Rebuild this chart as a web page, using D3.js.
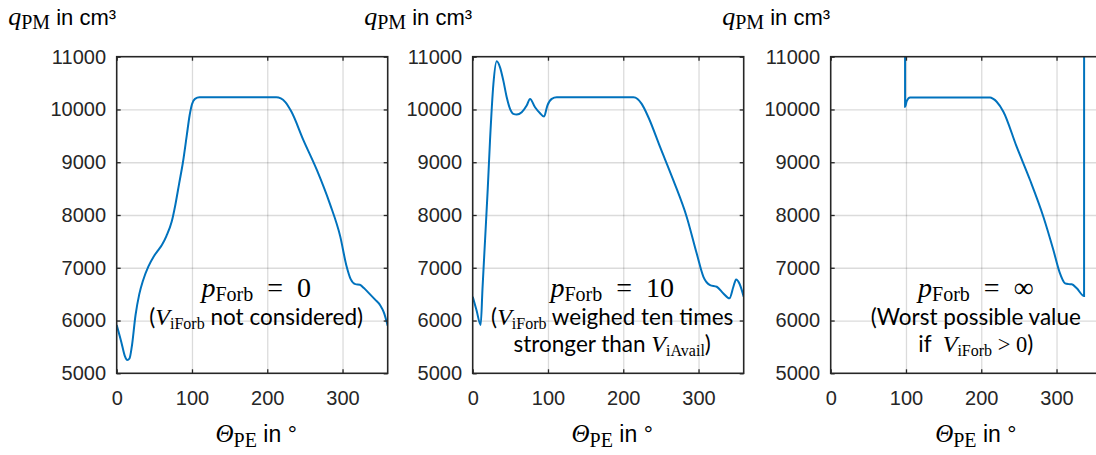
<!DOCTYPE html>
<html>
<head>
<meta charset="utf-8">
<script src="https://cdn.jsdelivr.net/npm/d3@7"></script>
<style>
  body { margin: 0; background: #fff; }
  svg { display: block; }
  .tick text { font-family: "Liberation Sans", Arial, sans-serif; font-size: 20px; fill: #262626; }
  .grid line { stroke: #000; stroke-opacity: 0.14; stroke-width: 1.3; }
  .grid path { display: none; }
  .ax path { display: none; }
  .ax line { stroke: #262626; stroke-width: 1.3; }
  .box { fill: none; stroke: #262626; stroke-width: 1.6; }
  .curve { fill: none; stroke: #0072BD; stroke-width: 2; }
  text { white-space: pre; }
  .mi { font-family: "Liberation Serif", "DejaVu Serif", serif; font-style: italic; }
  .mr { font-family: "Liberation Serif", "DejaVu Serif", serif; }
  .sf { font-family: "Liberation Sans", Arial, sans-serif; }
  .cb { font-family: Lato, "Open Sans", sans-serif; }
</style>
</head>
<body>
<svg id="chart" width="1096" height="455"></svg>
<script>
// axis ticks
const thetaTicks = [0, 100, 200, 300];
const qTicks = [5000, 6000, 7000, 8000, 9000, 10000, 11000];

// "worst possible value" - off the top of the plot
const WORST = 1e5;

// p_Forb = 0
const theta0 = [0, 6, 11, 14, 17, 20, 25, 30, 35, 42, 49, 55, 60, 66, 73, 78, 83, 88, 93, 97, 100, 104, 110,
  212, 218, 224, 232, 248, 266, 283, 297, 305, 311, 317, 323, 328, 335, 343, 350, 355, 360];
const q0 = [5915, 5600, 5320, 5250, 5280, 5500, 6100, 6500, 6760, 7020, 7210, 7330, 7430, 7600, 7870, 8200, 8600, 9000, 9500, 9900, 10100, 10200, 10230,
  10230, 10210, 10140, 9960, 9420, 8850, 8220, 7590, 7050, 6780, 6690, 6680, 6620, 6520, 6400, 6290, 6150, 5900];

// p_Forb = 10
const theta10 = [0, 5, 10.6, 13, 16.4, 20, 23, 27.5, 31.9, 36.3, 40.7, 45.2, 49.6, 54, 58.5, 65.1, 71.7, 76.2, 82.8, 89.5, 94.8, 99.2, 105, 111.6,
  213.5, 219, 224.5, 233.4, 249, 266.6, 284.3, 297.6, 306.5, 315.3, 324.2, 333, 341, 346.3, 349.9, 354.3, 360];
const q10 = [6451, 6200, 5916, 6600, 7522, 8500, 9412, 10483, 10912, 10798, 10546, 10231, 10011, 9916, 9904, 9948, 10074, 10200, 10042, 9929, 9866, 10074, 10200, 10231,
  10231, 10200, 10105, 9853, 9286, 8656, 7963, 7270, 6829, 6672, 6640, 6514, 6420, 6640, 6779, 6703, 6451];

// p_Forb = inf
const thetaInf = [0, 97.9, 98.8, 101, 105.4, 211.7, 216, 220.5, 229.4, 247, 264.8, 282.5, 295.8, 303.8, 311.4, 316, 320.2, 326.9, 336.6, 337.3, 360];
const qInf = [WORST, WORST, 10053, 10160, 10229, 10229, 10200, 10147, 9958, 9295, 8663, 7968, 7337, 6926, 6705, 6690, 6686, 6610, 6465, WORST, WORST];

const pForbValues = ["0", "10", "\u221E"];

// annotation lines: [text, style]
const notes0 = [[["(", "cb"], ["V", "mi"], ["iForb", "sub"], [" not considered)", "cb"]]];
const notes10 = [
  [["(", "cb"], ["V", "mi"], ["iForb", "sub"], [" weighed ten times", "cb"]],
  [["stronger than ", "cb"], ["V", "mi"], ["iAvail", "sub"], [")", "cb"]]
];
const notesInf = [
  [["(Worst possible value", "cb"]],
  [["if  ", "cb"], ["V", "mi"], ["iForb", "sub"], [" > 0", "mr"], [")", "cb"]]
];

const panels = [
  { theta: theta0, q: q0, p: pForbValues[0], notes: notes0, xMax: 360, left: 116.7 },
  { theta: theta10, q: q10, p: pForbValues[1], notes: notes10, xMax: 360, left: 472.7 },
  { theta: thetaInf, q: qInf, p: pForbValues[2], notes: notesInf, xMax: 375, left: 830.7 }
];

const svg = d3.select("#chart");
const TOP = 56.7, H = 316.6, PX_PER_DEG = 271 / 360;

panels.forEach((P, i) => {
  const w = PX_PER_DEG * P.xMax;
  const x = d3.scaleLinear().domain([0, P.xMax]).range([0, w]);
  const y = d3.scaleLinear().domain([5000, 11000]).range([H, 0]);
  const g = svg.append("g").attr("transform", `translate(${P.left},${TOP})`);

  // grid
  g.append("g").attr("class", "grid").attr("transform", `translate(0,${H})`)
    .call(d3.axisBottom(x).tickValues(thetaTicks.slice(1)).tickSize(-H).tickFormat(""));
  g.append("g").attr("class", "grid")
    .call(d3.axisLeft(y).tickValues(qTicks.slice(1, -1)).tickSize(-w).tickFormat(""));

  // curve
  g.append("clipPath").attr("id", `clip${i}`)
    .append("rect").attr("width", w).attr("height", H);
  g.append("path")
    .datum(d3.zip(P.theta, P.q))
    .attr("class", "curve")
    .attr("clip-path", `url(#clip${i})`)
    .attr("d", d3.line().x(d => x(d[0])).y(d => y(d[1])).curve(d3.curveMonotoneX));

  // axes, ticks inward on all sides
  g.append("g").attr("class", "ax").attr("transform", `translate(0,${H})`)
    .call(d3.axisBottom(x).tickValues(thetaTicks).tickFormat(d3.format("d")).tickSizeInner(-4).tickSizeOuter(0).tickPadding(17.5));
  g.append("g").attr("class", "ax")
    .call(d3.axisTop(x).tickValues(thetaTicks).tickSizeInner(-4).tickSizeOuter(0).tickFormat(""));
  g.append("g").attr("class", "ax")
    .call(d3.axisLeft(y).tickValues(qTicks).tickFormat(d3.format("d")).tickSizeInner(-4).tickSizeOuter(0).tickPadding(10.7));
  g.append("g").attr("class", "ax").attr("transform", `translate(${w},0)`)
    .call(d3.axisRight(y).tickValues(qTicks).tickSizeInner(-4).tickSizeOuter(0).tickFormat(""));
  g.append("rect").attr("class", "box").attr("width", w).attr("height", H);

  // y title
  const yt = svg.append("text").attr("x", P.left - 108.5).attr("y", 25).attr("fill", "#000");
  yt.append("tspan").attr("class", "mi").attr("font-size", 26).text("q");
  yt.append("tspan").attr("class", "mr").attr("font-size", 20).attr("dy", 4).text("PM");
  yt.append("tspan").attr("class", "sf").attr("font-size", 22).attr("dy", -4).text(" in cm\u00B3");

  // x title
  const cx = w / 2 + 4;
  const xt = g.append("text").attr("x", cx).attr("y", 385).attr("text-anchor", "middle").attr("fill", "#000");
  xt.append("tspan").attr("class", "mi").attr("font-size", 25).text("\u0398");
  xt.append("tspan").attr("class", "mr").attr("font-size", 20).attr("dy", 5).text("PE");
  xt.append("tspan").attr("class", "sf").attr("font-size", 23).attr("dy", -5).text(" in \u00B0");

  // annotation: p_Forb = ...
  const pt = g.append("text").attr("x", cx).attr("y", 240).attr("text-anchor", "middle").attr("fill", "#000");
  pt.append("tspan").attr("class", "mi").attr("font-size", 28).text("p");
  pt.append("tspan").attr("class", "mr").attr("font-size", 20).attr("dy", 4).text("Forb");
  pt.append("tspan").attr("class", "mr").attr("font-size", 28).attr("dy", -4).text("  =  " + P.p);

  P.notes.forEach((line, li) => {
    const t = g.append("text").attr("x", cx).attr("y", 268.3 + li * 26.7)
      .attr("text-anchor", "middle").attr("fill", "#000");
    let shifted = false;
    line.forEach(([s, cls]) => {
      const ts = t.append("tspan").text(s);
      if (cls === "sub") {
        ts.attr("class", "mr").attr("font-size", 16).attr("dy", 4);
        shifted = true;
      } else {
        ts.attr("class", cls).attr("font-size", cls === "mi" ? 24 : 22.5);
        if (shifted) { ts.attr("dy", -4); shifted = false; }
      }
    });
  });
});
</script>
</body>
</html>
